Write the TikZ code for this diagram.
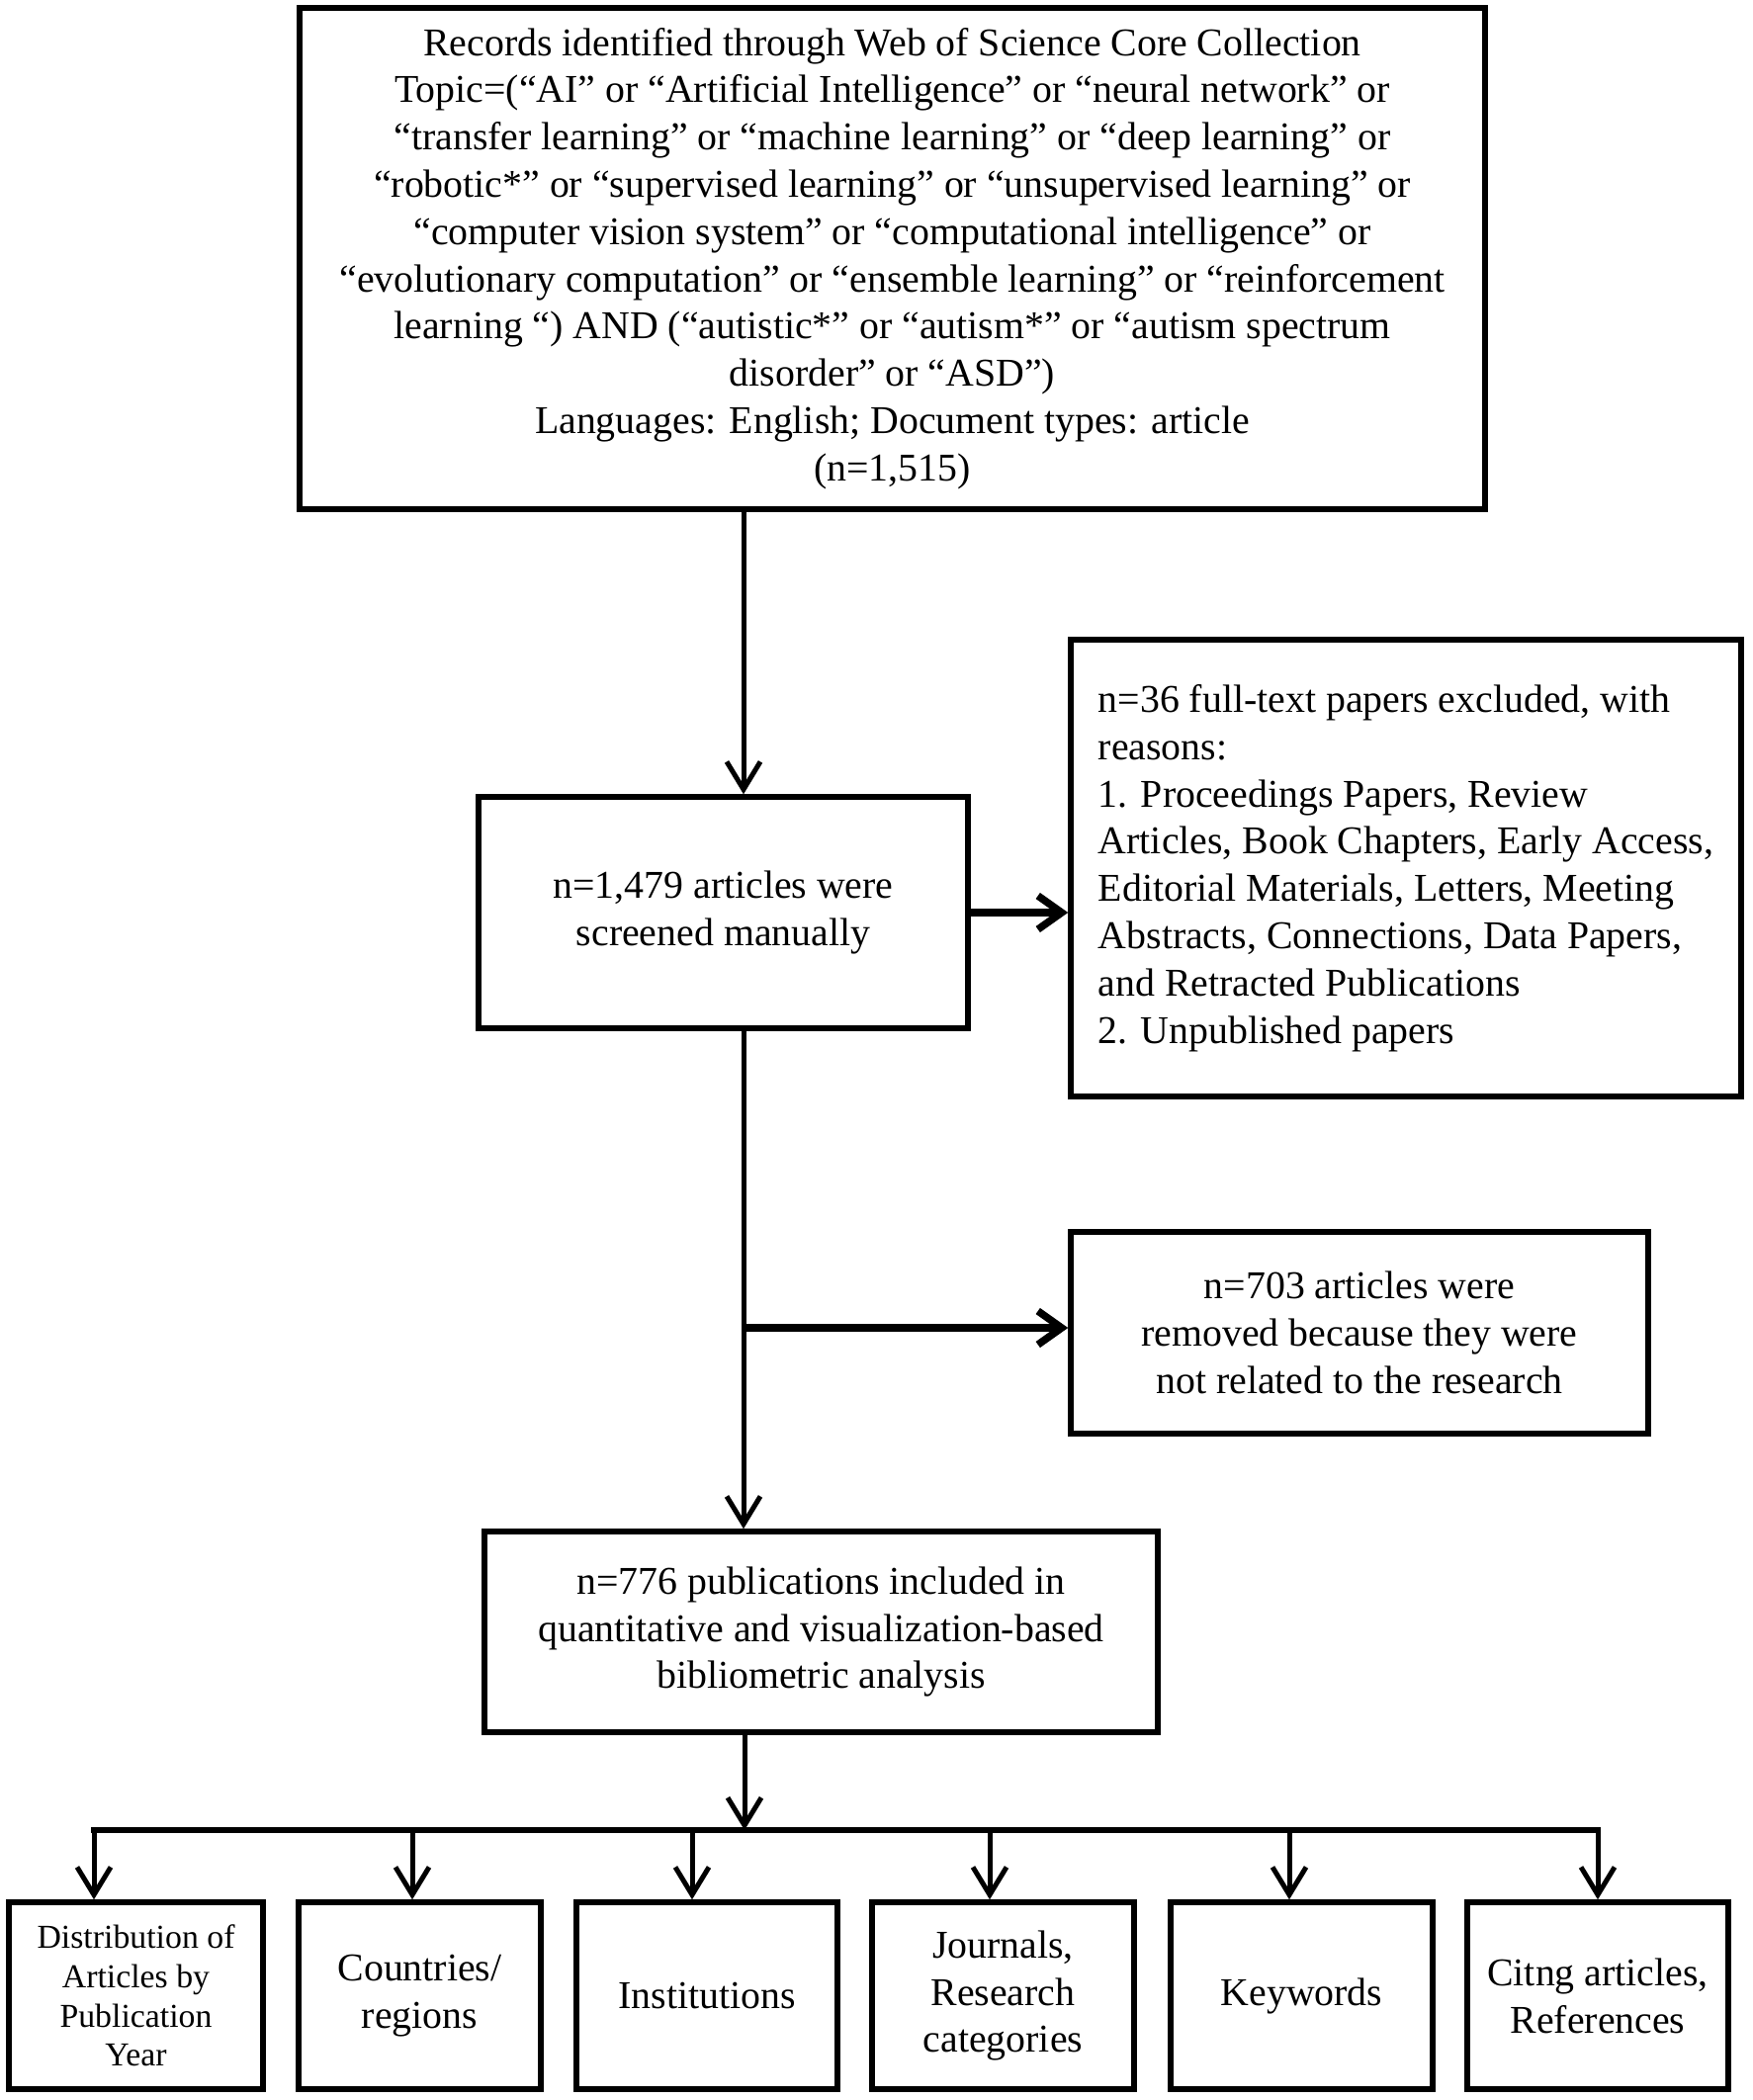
\documentclass[tikz,border=0pt]{standalone}
\usepackage{fontspec}
\setmainfont{Liberation Serif}
\usetikzlibrary{arrows.meta}
\begin{document}
\begin{tikzpicture}[x=1pt,y=-1pt,
  box/.style={draw=black, line width=5.5pt, rectangle, inner sep=0pt, align=center,
    font=\fontsize{39.8}{47.8}\selectfont},
  arr/.style={line width=5pt, -{Straight Barb[length=28pt,width=34pt]}},
  arrthick/.style={line width=7.5pt, -{Straight Barb[length=24pt,width=34pt]}},
  busline/.style={line width=6.5pt, line cap=rect}]
\useasboundingbox (0,0) rectangle (1772,2124);
% boxes
\node[box, minimum width=1199pt, minimum height=507pt] (top) at (902.5,261.5)
 {Records identified through Web of Science Core Collection\\
  Topic=(“AI” or “Artificial Intelligence” or “neural network” or\\
  “transfer learning” or “machine learning” or “deep learning” or\\
  “robotic*” or “supervised learning” or “unsupervised learning” or\\
  “computer vision system” or “computational intelligence” or\\
  “evolutionary computation” or “ensemble learning” or “reinforcement\\
  learning “) AND (“autistic*” or “autism*” or “autism spectrum\\
  disorder” or “ASD”)\\
  Languages: English; Document types: article\\
  (n=1,515)};
\node[box, minimum width=495pt, minimum height=234pt] (screen) at (731.5,923)
 {n=1,479 articles were\\ screened manually};
\node[box, align=left, minimum width=678pt, minimum height=462pt] (excl) at (1422,878)
 {n=36 full-text papers excluded, with\\
  reasons:\\
  1. Proceedings Papers, Review\\
  Articles, Book Chapters, Early Access,\\
  Editorial Materials, Letters, Meeting\\
  Abstracts, Connections, Data Papers,\\
  and Retracted Publications\\
  2. Unpublished papers};
\node[box, minimum width=584pt, minimum height=204pt] (removed) at (1375,1348)
 {n=703 articles were\\ removed because they were\\ not related to the research};
\node[box, minimum width=681pt, minimum height=203pt] (incl) at (830.5,1650.5)
 {n=776 publications included in\\ quantitative and visualization-based\\ bibliometric analysis};
% bottom boxes
\node[box, minimum width=257pt, minimum height=189pt, font=\fontsize{33.8}{39.7}\selectfont] (b1) at (137.5,2018.5)
 {Distribution of\\ Articles by\\ Publication\\ Year};
\node[box, minimum width=245pt, minimum height=189pt] (b2) at (424.5,2018.5) {Countries/\\ regions};
\node[box, minimum width=264pt, minimum height=189pt] (b3) at (715,2018.5) {Institutions};
\node[box, minimum width=265pt, minimum height=189pt] (b4) at (1014.5,2018.5) {Journals,\\ Research\\ categories};
\node[box, minimum width=265pt, minimum height=189pt] (b5) at (1316.5,2018.5) {Keywords};
\node[box, minimum width=264pt, minimum height=189pt] (b6) at (1616,2018.5) {Citng articles,\\ References};
% coordinates
\coordinate (trunk) at (752,1343);
\coordinate (busM) at (753,1851);
\coordinate (bus1) at (95,1851);
\coordinate (bus2) at (417,1851);
\coordinate (bus3) at (700,1851);
\coordinate (bus4) at (1001,1851);
\coordinate (bus5) at (1304,1851);
\coordinate (bus6) at (1616,1851);
% connectors
\draw[arr] (top.south -| trunk) -- (screen.north -| trunk);
\draw[arrthick] (screen.east) -- (excl.west |- screen.east);
\draw[arr] (screen.south -| trunk) -- (incl.north -| trunk);
\draw[arrthick] (trunk) -- (removed.west |- trunk);
\draw[arr] (incl.south -| busM) -- (busM);
\draw[busline] (bus1) -- (bus6);
\draw[arr] (bus1) -- (b1.north -| bus1);
\draw[arr] (bus2) -- (b2.north -| bus2);
\draw[arr] (bus3) -- (b3.north -| bus3);
\draw[arr] (bus4) -- (b4.north -| bus4);
\draw[arr] (bus5) -- (b5.north -| bus5);
\draw[arr] (bus6) -- (b6.north -| bus6);
\end{tikzpicture}
\end{document}
